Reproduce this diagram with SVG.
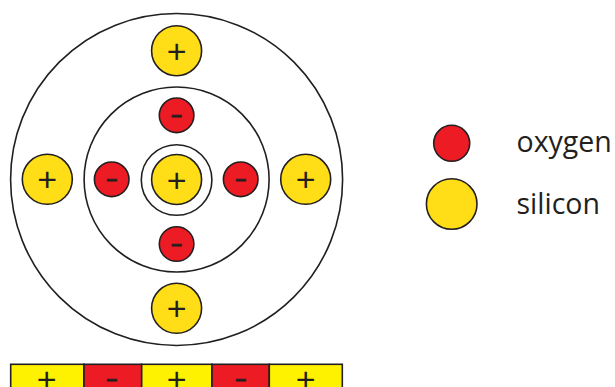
<svg xmlns="http://www.w3.org/2000/svg" width="615" height="387" viewBox="0 0 615 387">
<style>
.ring{fill:none;stroke:#231F20;stroke-width:1.6}
.si{fill:#FFDE17;stroke:#231F20;stroke-width:1.6}
.ox{fill:#ED1C24;stroke:#231F20;stroke-width:1.6}
.plus{font-family:"Liberation Sans",Arial,sans-serif;font-size:34px;fill:#231F20;text-anchor:middle}
.minus{font-family:"Liberation Sans",Arial,sans-serif;font-weight:bold;font-size:19px;fill:#231F20;stroke:#231F20;stroke-width:0.8;text-anchor:middle}
.lbl{font-family:"Open Sans","Liberation Sans",sans-serif;font-size:28.5px;fill:#231F20}
.cellY{fill:#FFF200;stroke:#231F20;stroke-width:1.6}
.cellR{fill:#ED1C24;stroke:#231F20;stroke-width:1.6}
</style>
<rect width="615" height="387" fill="#fff"/>
<g id="rings">
<circle class="ring" cx="176.6" cy="179.5" r="166"/>
<circle class="ring" cx="176.6" cy="179.5" r="92.5"/>
<circle class="ring" cx="176.6" cy="180" r="35.3"/>
</g>
<g id="si-center"><circle class="si" cx="176.6" cy="179.5" r="25"/><text class="plus" x="176.6" y="191.5">+</text></g>
<g id="si-top"><circle class="si" cx="176.6" cy="50.7" r="25"/><text class="plus" x="176.6" y="62.7">+</text></g>
<g id="si-bottom"><circle class="si" cx="176.6" cy="308.3" r="25"/><text class="plus" x="176.6" y="320.3">+</text></g>
<g id="si-left"><circle class="si" cx="47.3" cy="179.3" r="25"/><text class="plus" x="47.3" y="191.3">+</text></g>
<g id="si-right"><circle class="si" cx="305.7" cy="179.3" r="25"/><text class="plus" x="305.7" y="191.3">+</text></g>
<g id="ox-top"><circle class="ox" cx="176.6" cy="115.3" r="17.3"/><text class="minus" x="176.6" y="121.4">–</text></g>
<g id="ox-bottom"><circle class="ox" cx="176.6" cy="244" r="17.3"/><text class="minus" x="176.6" y="250.1">–</text></g>
<g id="ox-left"><circle class="ox" cx="111.7" cy="179.3" r="17.3"/><text class="minus" x="111.7" y="185.4">–</text></g>
<g id="ox-right"><circle class="ox" cx="240.7" cy="179.3" r="17.3"/><text class="minus" x="240.7" y="185.4">–</text></g>
<g id="legend-oxygen"><circle class="ox" cx="451.7" cy="143.3" r="18"/><text class="lbl" x="516.5" y="152">oxygen</text></g>
<g id="legend-silicon"><circle class="si" cx="451.7" cy="204" r="25.3"/><text class="lbl" x="516.5" y="214">silicon</text></g>
<g id="bar">
<rect class="cellY" x="10.7" y="364.3" width="73.3" height="30"/>
<rect class="cellR" x="84" y="364.3" width="57.7" height="30"/>
<rect class="cellY" x="141.7" y="364.3" width="70.3" height="30"/>
<rect class="cellR" x="212" y="364.3" width="57.3" height="30"/>
<rect class="cellY" x="269.3" y="364.3" width="73" height="30"/>
<text class="plus" x="46.7" y="391">+</text>
<text class="minus" x="111.7" y="385.2">–</text>
<text class="plus" x="176.7" y="391">+</text>
<text class="minus" x="240.7" y="385.2">–</text>
<text class="plus" x="305.7" y="391">+</text>
</g>
</svg>
